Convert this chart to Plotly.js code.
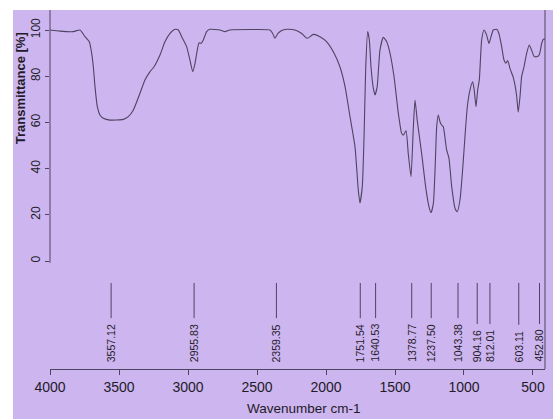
<!DOCTYPE html>
<html>
<head>
<meta charset="utf-8">
<script src="https://cdn.plot.ly/plotly-3.0.1.min.js"></script>
<style>
html,body{margin:0;padding:0;background:#ffffff;width:553px;height:419px;overflow:hidden;}
#chart{position:absolute;left:13px;top:10px;width:540px;height:409px;}
</style>
</head>
<body>
<div id="chart"></div>
<script>
// Spectrum
const wavenumber = [4000,3928,3831,3783,3746,3715,3698,3686,3674,3657,3638,3614,3565,3469,3433,3396,3348,3312,3275,3246,3203,3167,3130,3094,3070,3046,3010,2986,2966,2949,2937,2920,2906,2889,2865,2841,2768,2732,2696,2551,2406,2386,2370,2348,2321,2285,2225,2176,2136,2092,2044,1995,1947,1899,1862,1826,1790,1766,1754,1737,1723,1712,1698,1686,1674,1657,1645,1629,1609,1585,1560,1536,1507,1476,1452,1440,1420,1404,1384,1368,1355,1339,1307,1278,1254,1239,1222,1208,1198,1186,1174,1162,1150,1126,1109,1089,1065,1049,1029,1010,993,976,957,937,926,913,901,889,872,855,836,819,804,788,763,747,727,710,696,683,667,643,630,618,607,594,582,565,546,527,510,493,474,455,437,425,413];
const transmittance = [100,99.5,99.3,100,97.1,94.9,89.9,84.1,75.5,66.8,63.2,61.8,61.0,61.3,62.5,65.4,72.6,78.4,82,84.1,89.2,94.9,98.5,100.3,100,97.1,92.8,87,82,85.6,89.9,94.5,94.2,95.7,99.3,100.3,100,99.3,100,100.2,100,98.5,96.4,98.5,99.8,100.3,100,98.5,96.4,98.1,97.1,94.9,90.6,84.1,75.5,62.5,49.5,30.7,25.2,32.2,56.7,84,99.3,95.7,84.1,74.8,71.9,75.5,91.3,96.8,94.9,89.9,79.8,64,55.3,54.5,56.4,46.6,36.5,56.7,69.7,61,46.6,32.2,23.5,20.9,25,42.3,58.1,63.2,60.3,58.9,58.1,48.1,44.5,32.2,22.8,21.3,26.4,39.4,53.8,66.8,74,77.6,74,66.8,74,78.4,95.7,100,97.8,94.2,97.1,100,100.3,98.5,92.8,87,85.6,86.8,83.4,79.5,76,71.2,64.4,71.2,80,84.1,89.9,93.5,91.3,88.7,88.4,89.2,94.2,96,96];

// Peak annotations
const peakPositions = [3557.12,2955.83,2359.35,1751.54,1640.53,1378.77,1237.50,1043.38,904.16,812.01,603.11,452.80];
const peakLabels = ['3557.12','2955.83','2359.35','1751.54','1640.53','1378.77','1237.50','1043.38','904.16','812.01','603.11','452.80'];

// Axes
const xTicks = [4000,3500,3000,2500,2000,1500,1000,500];
const yTicks = [0,20,40,60,80,100];
const xRange = [4000,413];
const yRange = [-46.75,108.66];

const ink = '#4f4460';
const textCol = '#1f1b29';
const bg = '#cdb5ef';

const plotH = 359; // px height of plotting area
const pxPerUnit = plotH/(yRange[1]-yRange[0]);

const labelFontSize = 10.5;
const cv = document.createElement('canvas').getContext('2d');
cv.font = labelFontSize + 'px "Liberation Sans", Arial, sans-serif';

const labelBottom = -44.2;
const lineTop = -9.5;

const shapes = [];
const annotations = [];

peakPositions.forEach((p,i)=>{
  const w = cv.measureText(peakLabels[i]).width + 2;
  const labelTop = labelBottom + w/pxPerUnit;
  const lineBottom = labelTop + 5/pxPerUnit;
  shapes.push({type:'line',xref:'x',yref:'y',x0:p,x1:p,y0:lineTop,y1:lineBottom,line:{color:ink,width:1}});
  annotations.push({xref:'x',yref:'y',x:p,y:labelBottom,text:peakLabels[i],textangle:-90,showarrow:false,
    xanchor:'center',yanchor:'bottom',borderpad:0,
    font:{family:'"Liberation Sans", Arial, sans-serif',size:labelFontSize,color:textCol}});
});

// left axis line (from 0 up to top) and right frame line
shapes.push({type:'line',xref:'paper',yref:'y',x0:0,x1:0,y0:-0.8,y1:yRange[1],line:{color:ink,width:1}});
shapes.push({type:'line',xref:'paper',yref:'paper',x0:1,x1:1,y0:0,y1:1,line:{color:ink,width:1}});

annotations.push({xref:'paper',yref:'y',x:-0.0596,y:75,text:'Transmittance [%]',textangle:-90,showarrow:false,
  xanchor:'center',yanchor:'middle',font:{family:'"Liberation Sans", Arial, sans-serif',size:13,color:textCol,weight:'bold'}});
annotations.push({xref:'paper',yref:'paper',x:0.513,y:-0.111,text:'Wavenumber cm-1',showarrow:false,
  xanchor:'center',yanchor:'middle',font:{family:'"Liberation Sans Narrow", "Liberation Sans", Arial, sans-serif',size:13.5,color:textCol}});

const trace = {
  x: wavenumber, y: transmittance, type:'scatter', mode:'lines',
  line:{color:ink,width:1.1,shape:'spline',smoothing:0.5},
  hoverinfo:'skip'
};

const layout = {
  width:540, height:409,
  margin:{l:37,r:8,t:0,b:50,pad:0},
  paper_bgcolor:bg, plot_bgcolor:bg,
  showlegend:false,
  xaxis:{range:xRange,tickvals:xTicks,ticktext:xTicks.map(String),ticks:'outside',ticklen:5,tickwidth:1,tickcolor:ink,
    showline:true,linecolor:ink,linewidth:1,showgrid:false,zeroline:false,
    tickfont:{family:'"Liberation Sans Narrow", "Liberation Sans", Arial, sans-serif',size:14,color:textCol}},
  yaxis:{range:yRange,tickvals:yTicks,ticktext:yTicks.map(String),ticks:'outside',ticklen:4,tickwidth:1,tickcolor:ink,
    tickangle:-90,showline:false,showgrid:false,zeroline:false,
    tickfont:{family:'"Liberation Sans", Arial, sans-serif',size:12,color:textCol}},
  shapes:shapes,
  annotations:annotations
};

Plotly.newPlot('chart',[trace],layout,{staticPlot:true,displayModeBar:false});
</script>
</body>
</html>
